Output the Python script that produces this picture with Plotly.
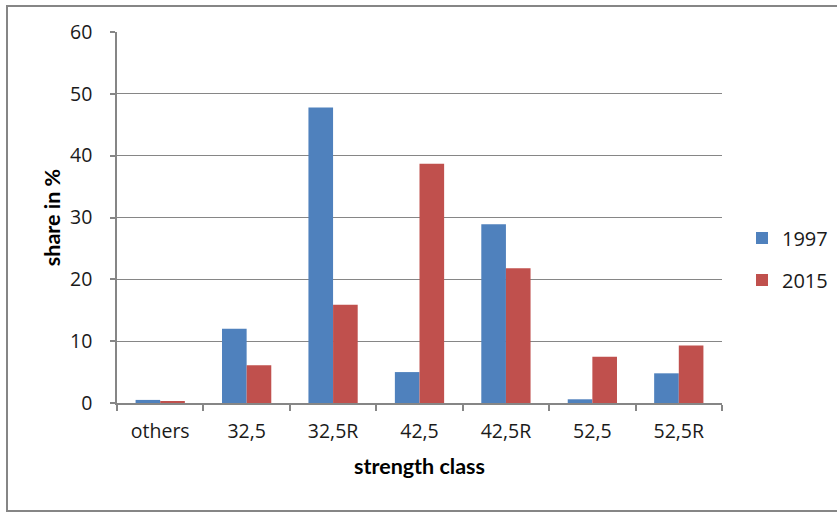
import plotly.graph_objects as go

# Cement strength classes and their share of production (%)
categories = ["others", "32,5", "32,5R", "42,5", "42,5R", "52,5", "52,5R"]
share_1997 = [0.5, 12.0, 47.8, 5.0, 28.9, 0.6, 4.8]
share_2015 = [0.3, 6.1, 15.9, 38.7, 21.8, 7.5, 9.3]
y_ticks = [0, 10, 20, 30, 40, 50, 60]

W, H = 837, 513
L, R, T, B = 117, 115, 32, 110

def px_x(p):
    return (p - L) / (W - L - R)

def px_y(p):
    return (H - B - p) / (H - T - B)

grey = "#868686"
tick_font = dict(family="Open Sans, Segoe UI, sans-serif", size=19.5, color="#1a1a1a")
title_font = dict(family="Lato, Calibri, sans-serif", size=21.5, color="#000000")

fig = go.Figure()
fig.add_trace(go.Bar(x=categories, y=share_1997, name="1997",
                     marker=dict(color="#4F81BD", line=dict(width=0)),
                     legendgroup="a"))
fig.add_trace(go.Bar(x=categories, y=share_2015, name="2015",
                     marker=dict(color="#C0504D", line=dict(width=0)),
                     legendgroup="b"))

fig.update_layout(
    width=W, height=H,
    margin=dict(l=L, r=R, t=T, b=B, autoexpand=False),
    paper_bgcolor="white", plot_bgcolor="white",
    barmode="group", bargap=0.43, bargroupgap=0,
    showlegend=True,
    legend=dict(x=px_x(742), y=px_y(259), xanchor="left", yanchor="middle",
                font=dict(family="Open Sans, Segoe UI, sans-serif", size=20, color="#1a1a1a"),
                traceorder="grouped", tracegroupgap=13, bgcolor="rgba(0,0,0,0)"),
    xaxis=dict(
        range=[-0.5, 6.5], showline=True, linecolor=grey, linewidth=1.5,
        ticks="outside", tickson="boundaries", ticklen=6, tickcolor=grey, tickwidth=1.5,
        tickfont=tick_font, ticklabelstandoff=10, showgrid=False,
        title=dict(text="<b>strength class</b>", font=title_font, standoff=16),
    ),
    yaxis=dict(
        range=[0, 60], tickvals=y_ticks, showline=True, linecolor=grey, linewidth=1.5,
        ticks="outside", ticklen=5, tickcolor=grey, tickwidth=1.5,
        tickfont=tick_font, ticklabelstandoff=14,
        showgrid=True, gridcolor=grey, gridwidth=1, zeroline=False,
        title=dict(text="<b>share in %</b>", font=title_font, standoff=4),
    ),
    shapes=[
        # outer frame (left, top, bottom edges)
        dict(type="line", xref="paper", yref="paper",
             x0=px_x(7), x1=px_x(7), y0=px_y(6), y1=px_y(511),
             line=dict(color=grey, width=2)),
        dict(type="line", xref="paper", yref="paper",
             x0=px_x(6), x1=px_x(840), y0=px_y(6), y1=px_y(6),
             line=dict(color=grey, width=2)),
        dict(type="line", xref="paper", yref="paper",
             x0=px_x(6), x1=px_x(840), y0=px_y(511), y1=px_y(511),
             line=dict(color=grey, width=2)),
    ],
)

fig.write_html("out.html")
